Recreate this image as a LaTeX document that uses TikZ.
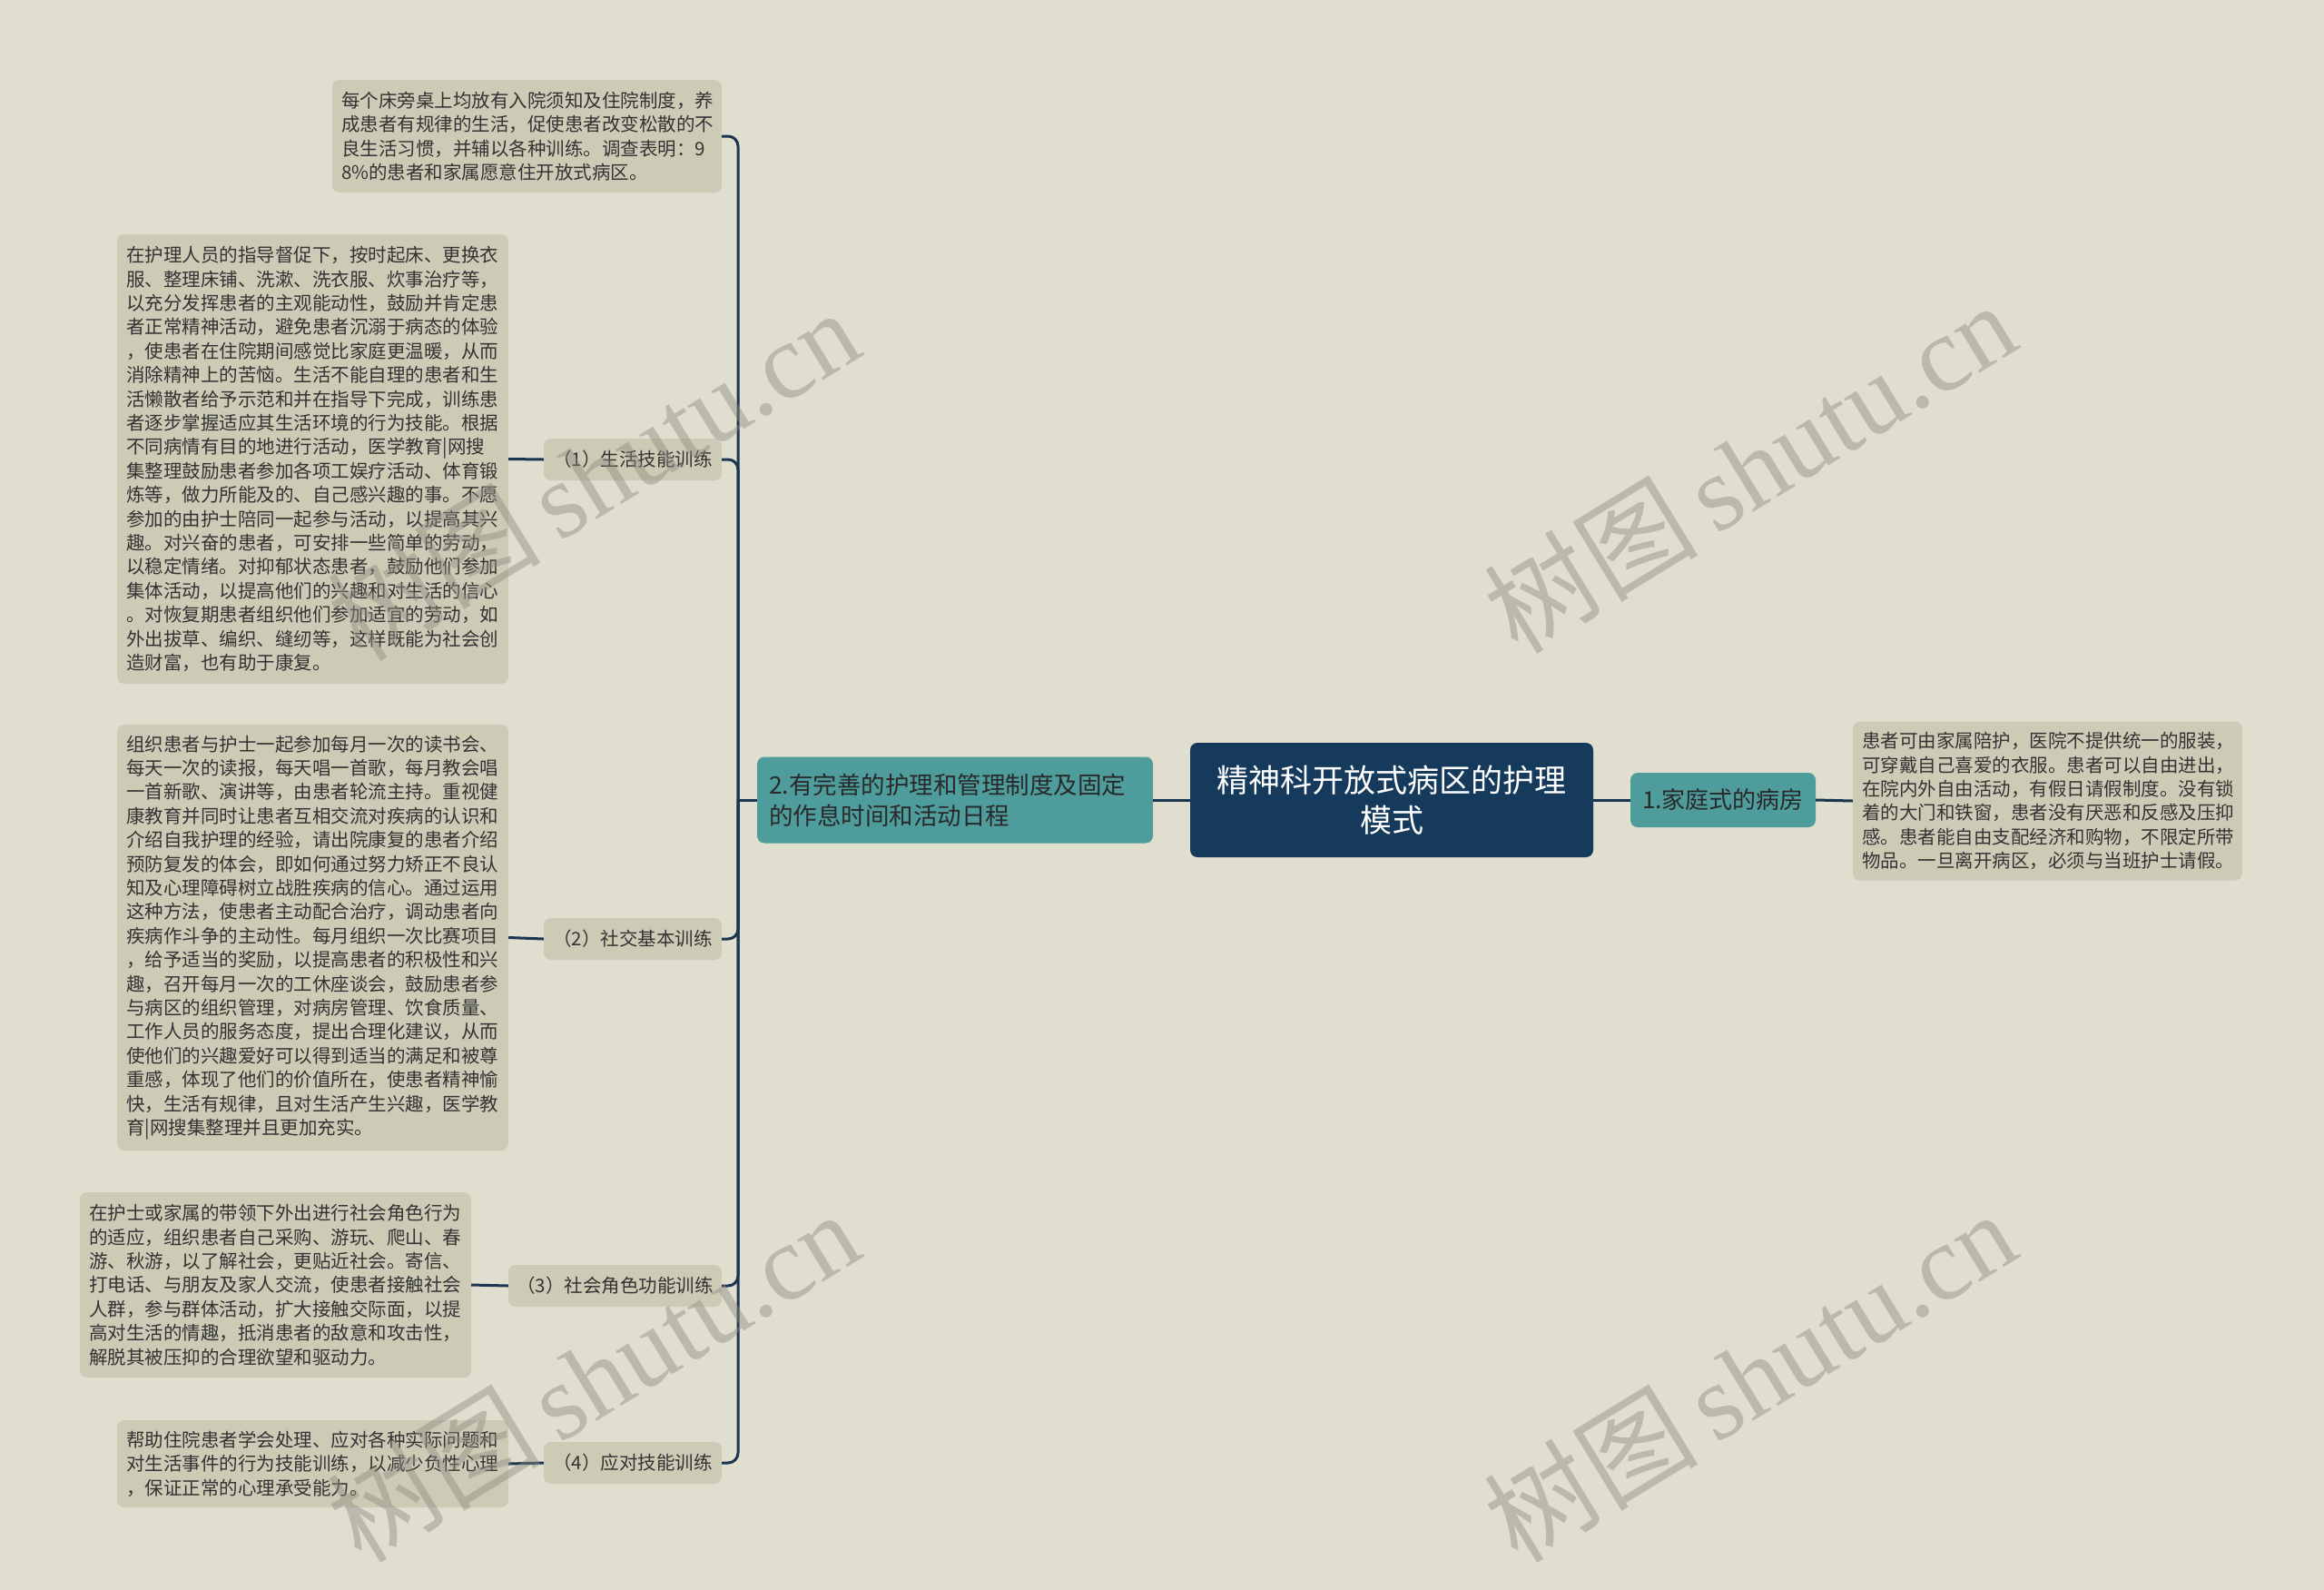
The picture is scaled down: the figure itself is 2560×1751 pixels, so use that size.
\documentclass[tikz,border=0pt]{standalone}
\usepackage{fontspec}
\newfontfamily\cjk{Noto Sans CJK SC}
\newfontfamily\wmserif{Liberation Serif}
\usetikzlibrary{calc}
\definecolor{bgc}{HTML}{E0DECF}
\definecolor{leafc}{HTML}{CDCBB6}
\definecolor{tealc}{HTML}{4E9C9B}
\definecolor{rootc}{HTML}{163A5C}
\definecolor{linec}{HTML}{1A3550}
\definecolor{txtc}{HTML}{333333}
\definecolor{wmc}{HTML}{8E8C80}
\tikzset{
  leafbox/.style={fill=leafc, rounded corners=8pt, inner xsep=10pt, inner ysep=0pt,
    align=left, text=txtc, font=\cjk\fontsize{20.5}{26.4}\selectfont},
  subbox/.style={fill=leafc, rounded corners=8pt, inner sep=0pt, align=center,
    text=txtc, font=\cjk\fontsize{20.5}{26}\selectfont},
  tealbox/.style={fill=tealc, rounded corners=8pt, inner sep=0pt, text=txtc!80!black},
  rootbox/.style={fill=rootc, rounded corners=8pt, inner sep=0pt, align=center, text=white,
    font=\cjk\fontsize{35}{44}\selectfont},
  conn/.style={draw=linec, line width=3pt, rounded corners=11pt},
  wmark/.style={text=wmc, opacity=0.45, rotate=31.5, inner sep=0pt}
}
\begin{document}
\begin{tikzpicture}[x=1pt,y=-1pt]
\useasboundingbox (0,0) rectangle (2560,1751);
\fill[bgc] (0,0) rectangle (2560,1751);

% main nodes
\node[rootbox, minimum width=444pt, minimum height=126pt] (root) at (1533,881)
  {精神科开放式病区的护理\\模式};
\node[tealbox, minimum width=204pt, minimum height=60pt, font=\cjk\fontsize{26}{32}\selectfont] (n1) at (1898,881)
  {1.家庭式的病房};
\node[leafbox, text width=409pt, minimum height=175pt] (r1) at (2255.5,882)
  {患者可由家属陪护，医院不提供统一的服装，\\
   可穿戴自己喜爱的衣服。患者可以自由进出，\\
   在院内外自由活动，有假日请假制度。没有锁\\
   着的大门和铁窗，患者没有厌恶和反感及压抑\\
   感。患者能自由支配经济和购物，不限定所带\\
   物品。一旦离开病区，必须与当班护士请假。};
\node[tealbox, minimum height=95pt, inner xsep=13pt, text width=410pt, align=left,
  font=\cjk\fontsize{26.5}{34}\selectfont] (n2) at (1052,881)
  {2.有完善的护理和管理制度及固定\\的作息时间和活动日程};

% sub nodes
\node[subbox, minimum width=196pt, minimum height=46pt] (c1) at (697,506) {（1）生活技能训练};
\node[subbox, minimum width=196pt, minimum height=46pt] (c2) at (697,1034) {（2）社交基本训练};
\node[subbox, minimum width=235pt, minimum height=46pt] (c3) at (677.5,1416) {（3）社会角色功能训练};
\node[subbox, minimum width=196pt, minimum height=46pt] (c4) at (697,1611) {（4）应对技能训练};

% leaves
\node[leafbox, text width=409pt, minimum height=124pt] (t0) at (580.5,150)
  {每个床旁桌上均放有入院须知及住院制度，养\\
   成患者有规律的生活，促使患者改变松散的不\\
   良生活习惯，并辅以各种训练。调查表明：9\\
   8\%的患者和家属愿意住开放式病区。};
\node[leafbox, text width=411pt, minimum height=495pt] (l1) at (344.5,505.5)
  {在护理人员的指导督促下，按时起床、更换衣\\
   服、整理床铺、洗漱、洗衣服、炊事治疗等，\\
   以充分发挥患者的主观能动性，鼓励并肯定患\\
   者正常精神活动，避免患者沉溺于病态的体验\\
   ，使患者在住院期间感觉比家庭更温暖，从而\\
   消除精神上的苦恼。生活不能自理的患者和生\\
   活懒散者给予示范和并在指导下完成，训练患\\
   者逐步掌握适应其生活环境的行为技能。根据\\
   不同病情有目的地进行活动，医学教育|网搜\\
   集整理鼓励患者参加各项工娱疗活动、体育锻\\
   炼等，做力所能及的、自己感兴趣的事。不愿\\
   参加的由护士陪同一起参与活动，以提高其兴\\
   趣。对兴奋的患者，可安排一些简单的劳动，\\
   以稳定情绪。对抑郁状态患者，鼓励他们参加\\
   集体活动，以提高他们的兴趣和对生活的信心\\
   。对恢复期患者组织他们参加适宜的劳动，如\\
   外出拔草、编织、缝纫等，这样既能为社会创\\
   造财富，也有助于康复。};
\node[leafbox, text width=411pt, minimum height=469pt] (l2) at (344.5,1032.5)
  {组织患者与护士一起参加每月一次的读书会、\\
   每天一次的读报，每天唱一首歌，每月教会唱\\
   一首新歌、演讲等，由患者轮流主持。重视健\\
   康教育并同时让患者互相交流对疾病的认识和\\
   介绍自我护理的经验，请出院康复的患者介绍\\
   预防复发的体会，即如何通过努力矫正不良认\\
   知及心理障碍树立战胜疾病的信心。通过运用\\
   这种方法，使患者主动配合治疗，调动患者向\\
   疾病作斗争的主动性。每月组织一次比赛项目\\
   ，给予适当的奖励，以提高患者的积极性和兴\\
   趣，召开每月一次的工休座谈会，鼓励患者参\\
   与病区的组织管理，对病房管理、饮食质量、\\
   工作人员的服务态度，提出合理化建议，从而\\
   使他们的兴趣爱好可以得到适当的满足和被尊\\
   重感，体现了他们的价值所在，使患者精神愉\\
   快，生活有规律，且对生活产生兴趣，医学教\\
   育|网搜集整理并且更加充实。};
\node[leafbox, text width=411pt, minimum height=204pt] (l3) at (303.5,1415)
  {在护士或家属的带领下外出进行社会角色行为\\
   的适应，组织患者自己采购、游玩、爬山、春\\
   游、秋游，以了解社会，更贴近社会。寄信、\\
   打电话、与朋友及家人交流，使患者接触社会\\
   人群，参与群体活动，扩大接触交际面，以提\\
   高对生活的情趣，抵消患者的敌意和攻击性，\\
   解脱其被压抑的合理欲望和驱动力。};
\node[leafbox, text width=411pt, minimum height=96pt] (l4) at (344.5,1612)
  {帮助住院患者学会处理、应对各种实际问题和\\
   对生活事件的行为技能训练，以减少负性心理\\
   ，保证正常的心理承受能力。};

% connectors
\coordinate (bus) at (813,881);
\draw[conn] (root.east) -- (n1.west);
\draw[conn] (n1.east) -- (r1.west);
\draw[conn] (n2.east) -- (root.west);
\draw[conn] (n2.west) -- (bus);
\draw[conn] (t0.east) -| (bus);
\draw[conn] (c1.east) -| (bus);
\draw[conn] (c2.east) -| (bus);
\draw[conn] (c3.east) -| (bus);
\draw[conn] (c4.east) -| (bus);
\draw[conn] (l1.east) -- (c1.west);
\draw[conn] (l2.east) -- (c2.west);
\draw[conn] (l3.east) -- (c3.west);
\draw[conn] (l4.east) -- (c4.west);

% watermarks
\foreach \p/\q [count=\i] in {653/522, 1927/514, 653/1515, 1927/1515}{
  \node[wmark] (wm\i) at (\p,\q) {\cjk\fontsize{118}{118}\selectfont 树图\,\wmserif shutu.cn};
}
\end{tikzpicture}
\end{document}
